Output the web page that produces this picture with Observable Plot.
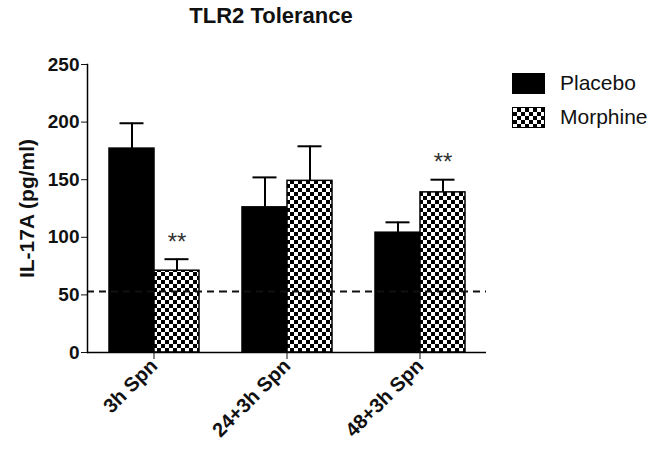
<!DOCTYPE html>
<html>
<head>
<meta charset="utf-8">
<script src="https://cdn.jsdelivr.net/npm/d3@7"></script>
<script src="https://cdn.jsdelivr.net/npm/@observablehq/plot@0.6"></script>
<style>
  html, body { margin: 0; padding: 0; background: #fff; }
  #wrap { position: relative; width: 654px; height: 452px; font-family: "Liberation Sans", Arial, sans-serif; }
  #title { position: absolute; left: 86px; width: 370px; top: 3px; text-align: center; font-weight: bold; font-size: 22px; color: #111; z-index: 2; }
  #legend { position: absolute; left: 512px; top: 66px; font-size: 21px; color: #111; z-index: 2; }
  .item { display: flex; align-items: center; height: 34px; }
  .sw { width: 33px; height: 21px; margin-right: 15px; box-sizing: border-box; border: 1.5px solid #000; }
</style>
</head>
<body>
<div id="wrap">
  <div id="title">TLR2 Tolerance</div>
  <div id="legend"></div>
</div>
<script>
const categories = ["3h Spn", "24+3h Spn", "48+3h Spn"];
const series = ["Placebo", "Morphine"];
const placeboMean = [177, 126, 104];
const placeboErr = [22, 26, 9];
const morphineMean = [71, 149, 139];
const morphineErr = [10, 30, 11];
const significance = ["**", "", "**"];
const baseline = 53;
const yTicks = [0, 50, 100, 150, 200, 250];

const rows = [];
categories.forEach((c, i) => {
  rows.push({cat: c, series: "Placebo", mean: placeboMean[i], err: placeboErr[i], sig: ""});
  rows.push({cat: c, series: "Morphine", mean: morphineMean[i], err: morphineErr[i], sig: significance[i]});
});
rows.forEach(d => d.top = d.mean + d.err);

const fillFor = s => s === "Placebo" ? "#000" : "url(#checker)";

const chart = Plot.plot({
  width: 654,
  height: 452,
  marginLeft: 86,
  marginRight: 167,
  marginTop: 64,
  marginBottom: 100,
  style: {fontFamily: "'Liberation Sans', Arial, sans-serif", color: "#111"},
  fx: {domain: categories, padding: 0, label: null, axis: null},
  x: {domain: series, paddingInner: 0, paddingOuter: 0.457, axis: null},
  y: {domain: [0, 250], label: null},
  marks: [
    Plot.barY(rows, {fx: "cat", x: "series", y: "mean", fill: d => fillFor(d.series), stroke: "#000", strokeWidth: 1.5}),
    Plot.ruleY([baseline], {stroke: "#111", strokeWidth: 2, strokeDasharray: "7,5"}),
    Plot.ruleX(rows, {fx: "cat", x: "series", y1: "mean", y2: "top", stroke: "#000", strokeWidth: 2}),
    Plot.tickY(rows, {fx: "cat", x: "series", y: "top", stroke: "#000", strokeWidth: 2, insetLeft: 10.5, insetRight: 10.5}),
    Plot.text(rows.filter(d => d.sig), {fx: "cat", x: "series", y: "top", text: "sig", dy: -17, fontSize: 24, fill: "#333"}),
    Plot.ruleY([0], {stroke: "#000", strokeWidth: 1.5}),
    Plot.frame({anchor: "left", facetAnchor: "left", stroke: "#000", strokeWidth: 1.5}),
    Plot.axisY({ticks: yTicks, tickSize: 6, tickPadding: 2, fontSize: 19, fontWeight: "bold", label: "IL-17A (pg/ml)", labelAnchor: "center", labelArrow: "none", labelOffset: 68}),
    Plot.axisFx({anchor: "bottom", tickRotate: -45, tickSize: 7, tickPadding: 3, fontSize: 20, fontWeight: "bold", label: null})
  ]
});

// checker pattern definition
const ns = "http://www.w3.org/2000/svg";
const defs = document.createElementNS(ns, "defs");
defs.innerHTML = `<pattern id="checker" patternUnits="userSpaceOnUse" width="8" height="8">
  <rect width="8" height="8" fill="#fff"/>
  <rect x="0" y="0" width="4" height="4" fill="#000"/>
  <rect x="4" y="4" width="4" height="4" fill="#000"/>
</pattern>`;
chart.insertBefore(defs, chart.firstChild);
chart.style.position = "absolute";
chart.style.left = "0";
chart.style.top = "0";
document.getElementById("wrap").appendChild(chart);

// axis label styling
chart.querySelectorAll("[aria-label='y-axis label']").forEach(t => {
  t.setAttribute("font-weight", "bold");
  t.setAttribute("font-size", "21");
});

// legend
const legend = document.getElementById("legend");
series.forEach(s => {
  const item = document.createElement("div");
  item.className = "item";
  const sw = document.createElement("div");
  sw.className = "sw";
  if (s === "Placebo") sw.style.background = "#000";
  else sw.style.background = "repeating-conic-gradient(#000 0% 25%, #fff 0% 50%) 0 0 / 8px 8px";
  const lab = document.createElement("span");
  lab.textContent = s;
  item.appendChild(sw);
  item.appendChild(lab);
  legend.appendChild(item);
});
</script>
</body>
</html>
